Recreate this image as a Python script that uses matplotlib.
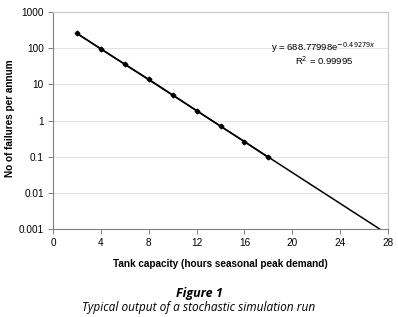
import numpy as np
import matplotlib
matplotlib.use("Agg")
import matplotlib.pyplot as plt

# Data
capacity = [2, 4, 6, 8, 10, 12, 14, 16, 18]
failures = [255, 95, 36, 13.8, 5.1, 1.88, 0.70, 0.26, 0.095]

# exponential trendline (Excel) end points
trend_x = [2, 27.3]
trend_y = [257, 0.001]

x_ticks = [0, 4, 8, 12, 16, 20, 24, 28]
y_ticks = [0.001, 0.01, 0.1, 1, 10, 100, 1000]
y_labels = ["0.001", "0.01", "0.1", "1", "10", "100", "1000"]

plt.rcParams['font.family'] = ['Liberation Sans', 'DejaVu Sans']

fig = plt.figure(figsize=(3.98, 3.17), dpi=100)
ax = fig.add_axes([0.1332, 0.2776, 0.8417, 0.6845])

ax.plot(trend_x, trend_y, color='black', lw=1.1, zorder=3)
ax.plot(capacity, failures, color='black', lw=1.1, marker='D', ms=2.4, zorder=4)

ax.set_yscale('log')
ax.set_xlim(0, 28)
ax.set_ylim(0.001, 1000)
ax.set_xticks(x_ticks)
ax.set_xticklabels([str(t) for t in x_ticks], fontsize=7.2)
ax.set_yticks(y_ticks)
ax.set_yticklabels(y_labels, fontsize=7.2)
ax.minorticks_off()
ax.grid(axis='y', color='#e2e2e2', lw=0.7)
ax.set_axisbelow(True)

for s in ['left', 'bottom']:
    ax.spines[s].set_color('#808080')
    ax.spines[s].set_linewidth(0.8)
for s in ['top', 'right']:
    ax.spines[s].set_color('#c8c8c8')
    ax.spines[s].set_linewidth(0.8)
ax.tick_params(axis='both', direction='out', length=3.5, width=0.7, color='#808080', pad=3)

ax.set_xlabel("Tank capacity (hours seasonal peak demand)", fontsize=7.2, fontweight='bold', labelpad=8)
ax.set_ylabel("No of failures per annum", fontsize=7.2, fontweight='bold')
ax.yaxis.set_label_coords(-0.113, 0.51)

ax.text(0.965, 0.835, r"y = 688.77998e$^{-0.49279x}$", transform=ax.transAxes,
        ha='right', va='center', fontsize=6.8)
ax.text(0.895, 0.775, r"R$^2$ = 0.99995", transform=ax.transAxes,
        ha='right', va='center', fontsize=6.8)

fig.text(0.5, 0.075, "Figure 1", ha='center', va='center', fontsize=9,
         fontweight='bold', style='italic', family=['Open Sans', 'DejaVu Sans'])
fig.text(0.5, 0.031, "Typical output of a stochastic simulation run", ha='center', va='center',
         fontsize=8.6, style='italic', family=['Open Sans', 'DejaVu Sans'])

plt.savefig("out.png", dpi=100)
